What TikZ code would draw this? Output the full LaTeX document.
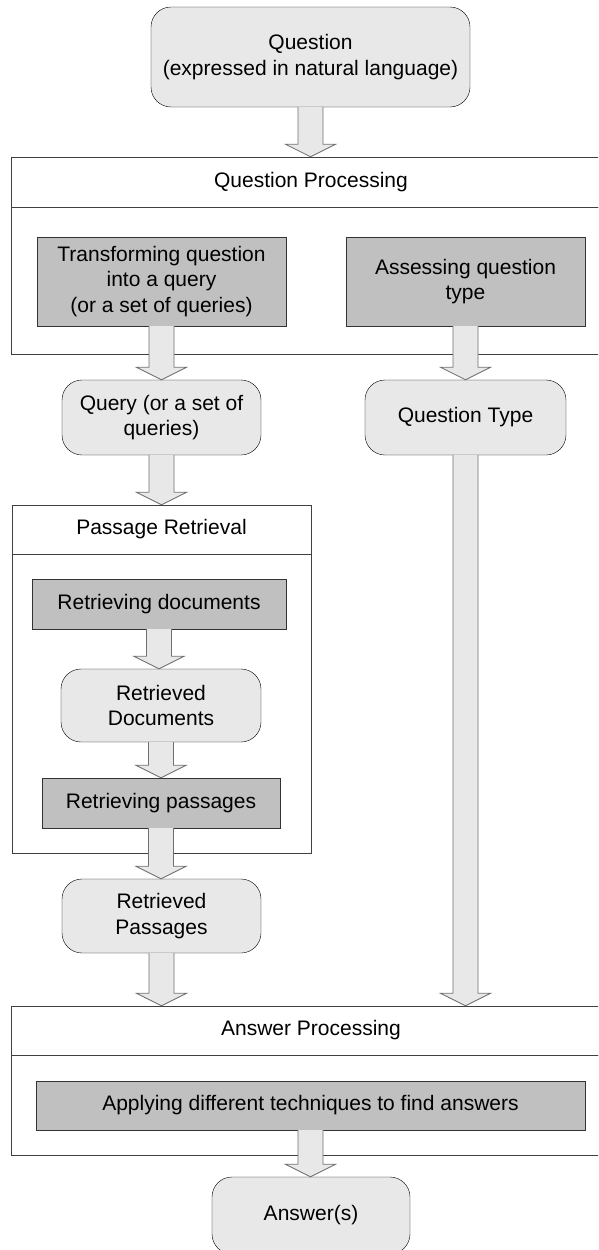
\documentclass[tikz,border=0pt]{standalone}
\usepackage{fontspec}
\setmainfont{Liberation Sans}
\usetikzlibrary{calc}
\definecolor{boxgray}{HTML}{C0C0C0}
\definecolor{softgray}{HTML}{E8E8E8}
\definecolor{edgegray}{HTML}{707070}
% wide hollow arrow, straight down from #1 to the level of #2
\newcommand{\fatarrow}[2]{%
  \filldraw[blockarrow] let \p1=(#1), \p2=(#1 |- #2) in
    (\x1-12.5pt,\y1) -- (\x1-12.5pt,\y2+12.5pt) -- (\x1-25pt,\y2+12.5pt)
    -- (\x2,\y2) -- (\x1+25pt,\y2+12.5pt) -- (\x1+12.5pt,\y2+12.5pt) -- (\x1+12.5pt,\y1);
}

\begin{document}
\begin{tikzpicture}[x=1pt, y=-1pt, font=\fontsize{21}{25.5}\selectfont,
  data/.style={draw, fill=softgray, rounded corners=20pt, align=center, inner sep=0pt},
  task/.style={draw=black!80, fill=boxgray, align=center, inner sep=0pt},
  frame/.style={draw=black!75, inner sep=0pt},
  blockarrow/.style={draw=edgegray, fill=softgray, line width=0.8pt}]
\clip (0,0) rectangle (598,1250);
\node[data, minimum width=319, minimum height=100] (q0) at (310.5,57) {Question\\(expressed in natural language)};
% question processing
\node[frame, minimum width=600, minimum height=50] (qphead) at (311,182) {Question Processing};
\node[frame, minimum width=600, minimum height=147] (qpbody) at (311,280.5) {};
\node[task, minimum width=249, minimum height=89] (transform) at (161.5,281.5) {Transforming question\\into a query\\(or a set of queries)};
\node[task, minimum width=239, minimum height=89] (assess) at (465.5,281.5) {Assessing question\\type};
\node[data, minimum width=199, minimum height=75] (query) at (161.5,417.5) {Query (or a set of\\queries)};
\node[data, minimum width=201, minimum height=75] (qtype) at (465.5,417.5) {Question Type};
% passage retrieval
\node[frame, minimum width=299, minimum height=49] (prhead) at (161.5,529.5) {Passage Retrieval};
\node[frame, minimum width=299, minimum height=299] (prbody) at (161.5,703.5) {};
\node[task, minimum width=254, minimum height=50] (retdocs) at (159,604) {Retrieving documents};
\node[data, minimum width=200, minimum height=73] (retrdocs) at (161,705.5) {Retrieved\\Documents};
\node[task, minimum width=238, minimum height=50] (retpass) at (161,803) {Retrieving passages};
\node[data, minimum width=199, minimum height=74] (retrpass) at (161.5,916) {Retrieved\\Passages};
% answer processing
\node[frame, minimum width=600, minimum height=49] (aphead) at (311,1030.5) {Answer Processing};
\node[frame, minimum width=600, minimum height=100] (apbody) at (311,1105) {};
\node[task, minimum width=549, minimum height=49] (apply) at (310.5,1105.5) {Applying different techniques to find answers};
\node[data, minimum width=198, minimum height=77] (answers) at (311,1215.5) {Answer(s)};
% arrows
\fatarrow{q0.south}{qphead.north}
\fatarrow{transform.south}{query.north}
\fatarrow{assess.south}{qtype.north}
\fatarrow{query.south}{prhead.north}
\fatarrow{qtype.south}{aphead.north}
\fatarrow{retdocs.south}{retrdocs.north}
\fatarrow{retrdocs.south}{retpass.north}
\fatarrow{retpass.south}{retrpass.north}
\fatarrow{retrpass.south}{aphead.north}
\fatarrow{apply.south}{answers.north}
\end{tikzpicture}
\end{document}
